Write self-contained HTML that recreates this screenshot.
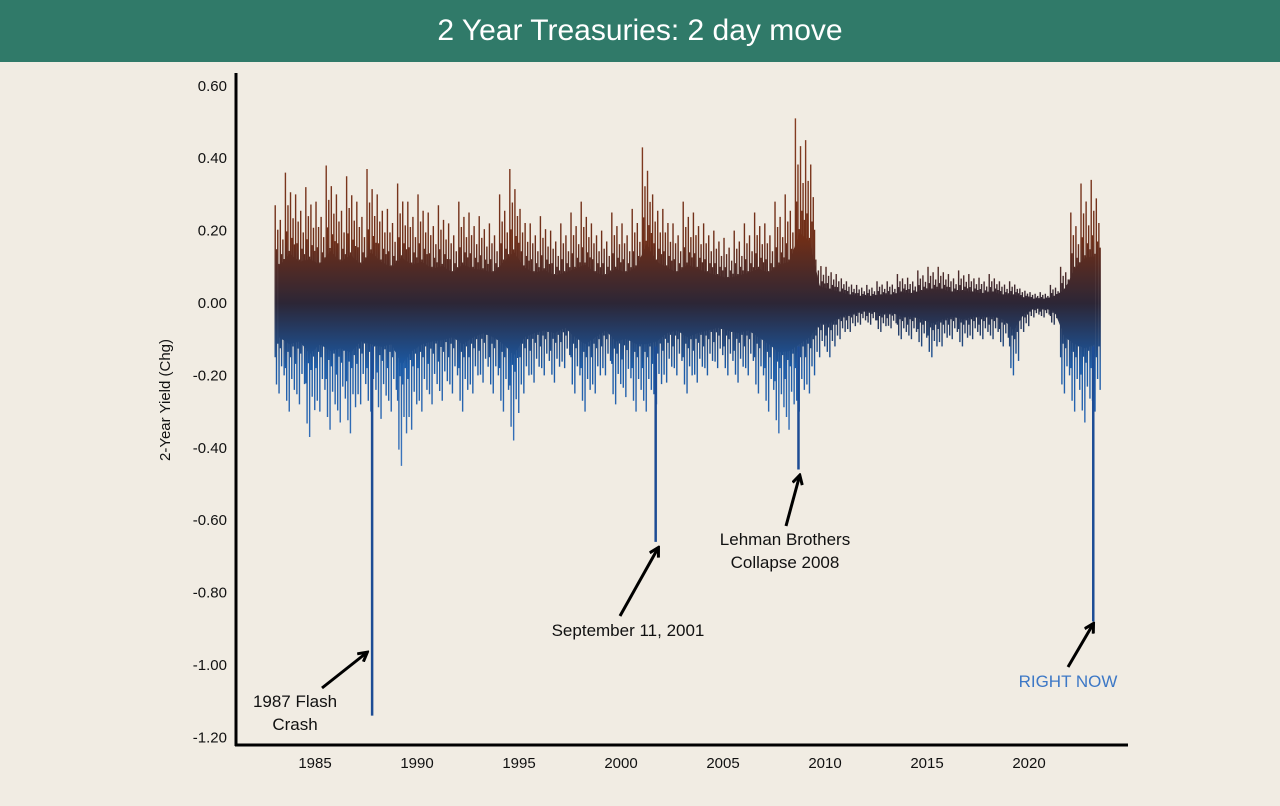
<!DOCTYPE html>
<html><head><meta charset="utf-8"><style>
html,body{margin:0;padding:0;width:1280px;height:806px;overflow:hidden;background:#f1ece3;font-family:"Liberation Sans",sans-serif}
#title{position:absolute;left:0;top:0;width:1280px;height:62px;background:#307a69;color:#fff;font-size:30px;line-height:62px;text-align:center;z-index:2}
svg{position:absolute;left:0;top:0}
</style></head><body>
<div id="title">2 Year Treasuries: 2 day move</div>
<svg id="c" width="1280" height="806">
<defs>
<linearGradient id="g" gradientUnits="userSpaceOnUse" x1="0" y1="100" x2="0" y2="470">
<stop offset="0" stop-color="#8a4024"/><stop offset="0.38" stop-color="#6e2e18"/>
<stop offset="0.55" stop-color="#2c2636"/><stop offset="0.72" stop-color="#1b5aa6"/>
<stop offset="1" stop-color="#3f78c0"/></linearGradient>
<marker id="ah" markerWidth="12" markerHeight="12" refX="7" refY="6" orient="auto" markerUnits="userSpaceOnUse"><path d="M1,1 L10,6 L1,11" fill="none" stroke="#000" stroke-width="3"/></marker>
</defs>
<g id="marks"></g>
<g id="axes"></g>
</svg>
<script>
const yTicks=[0.6,0.4,0.2,0,-0.2,-0.4,-0.6,-0.8,-1.0,-1.2];
const xTicks=[1985,1990,1995,2000,2005,2010,2015,2020];
const startYear=1983.25, stepYear=0.5;
const highs=[.27,.36,.30,.32,.28,.38,.30,.35,.28,.37,
.30,.26,.33,.28,.30,.25,.27,.22,.28,.25,
.24,.22,.30,.37,.26,.22,.24,.20,.22,.25,
.28,.22,.20,.25,.22,.26,.43,.30,.26,.22,
.28,.25,.22,.20,.18,.20,.22,.25,.22,.28,
.30,.51,.45,.12,.10,.08,.06,.05,.05,.06,
.06,.08,.07,.09,.10,.10,.08,.09,.08,.07,
.08,.06,.06,.04,.03,.03,.05,.10,.25,.33,.34];
const lows=[-.25,-.30,-.28,-.37,-.30,-.35,-.33,-.36,-.28,-.30,
-.32,-.30,-.45,-.35,-.30,-.28,-.27,-.25,-.30,-.25,
-.22,-.25,-.30,-.38,-.25,-.22,-.20,-.22,-.18,-.25,
-.30,-.25,-.20,-.28,-.26,-.30,-.30,-.28,-.22,-.20,
-.25,-.22,-.20,-.18,-.20,-.22,-.20,-.25,-.30,-.36,
-.35,-.30,-.25,-.15,-.15,-.10,-.08,-.06,-.06,-.08,
-.07,-.10,-.10,-.12,-.15,-.12,-.10,-.12,-.10,-.10,
-.10,-.12,-.20,-.08,-.04,-.04,-.06,-.25,-.30,-.33,-.30];
const spikeYears=[1987.8,2001.7,2008.7,2023.15];
const spikeValues=[-1.14,-0.66,-0.46,-0.88];
const X=y=>315+(y-1985)*20.4;
const Y=v=>303-v*362;
const NS="http://www.w3.org/2000/svg";
const marksG=document.getElementById('marks'), axesG=document.getElementById('axes');
function mk(tag,attrs,parent){const e=document.createElementNS(NS,tag);for(const k in attrs)e.setAttribute(k,attrs[k]);parent.appendChild(e);return e;}
const pu=[1,.55,.75,.4,.85,.5,.65,.45], pd=[.6,.9,.45,1,.5,.7,.4,.8];
const topPts=[], botPts=[];
highs.forEach((h,i)=>{const yr=startYear+i*stepYear;topPts.push(X(yr)+','+Y(h*0.38));botPts.unshift(X(yr)+','+Y(lows[i]*0.38));});
const core=mk('polygon',{points:topPts.concat(botPts).join(' '),fill:'url(#g)'},marksG);


highs.forEach((h,i)=>{
  const yr=startYear+i*stepYear;
  for(let k=0;k<8;k++){
    const x=X(yr-0.2+k*0.0625);
    const ln=mk('line',{x1:x,x2:x,y1:Y(h*pu[k]),y2:Y(lows[i]*pd[k]),stroke:'url(#g)','stroke-width':1.4},marksG);
    
    
  }
});
spikeYears.forEach((yr,i)=>{
  const ln=mk('line',{x1:X(yr),x2:X(yr),y1:Y(-0.12),y2:Y(spikeValues[i]),stroke:'#1d4c95','stroke-width':2.5},marksG);
  
  
});
const ya=mk('line',{x1:236,x2:236,y1:73,y2:746,stroke:'#000','stroke-width':3},axesG);


const xa=mk('line',{x1:235,x2:1128,y1:745,y2:745,stroke:'#000','stroke-width':3},axesG);


yTicks.forEach(v=>{const t=mk('text',{x:227,y:Y(v)+5,'text-anchor':'end','font-size':15,fill:'#111'},axesG);t.textContent=v.toFixed(2);

});
xTicks.forEach(v=>{const t=mk('text',{x:X(v),y:768,'text-anchor':'middle','font-size':15,fill:'#111'},axesG);t.textContent=v;

});
const yt=mk('text',{x:0,y:0,transform:'translate(170,400) rotate(-90)','text-anchor':'middle','font-size':15,fill:'#111'},axesG);
yt.textContent='2-Year Yield (Chg)';


const ann=[
 {x1:322,y1:688,x2:365,y2:654,lines:['1987 Flash','Crash'],tx:295,ty:707,col:'#111',name:'flash-crash-annotation'},
 {x1:620,y1:616,x2:657,y2:550,lines:['September 11, 2001'],tx:628,ty:636,col:'#111',name:'sept-11-annotation'},
 {x1:786,y1:526,x2:799,y2:478,lines:['Lehman Brothers','Collapse 2008'],tx:785,ty:545,col:'#111',name:'lehman-annotation'},
 {x1:1068,y1:667,x2:1092,y2:626,lines:['RIGHT NOW'],tx:1068,ty:687,col:'#3d78c6',name:'right-now-annotation'}];
ann.forEach(a=>{
  const g=mk('g',{},axesG);
  
  
  mk('line',{x1:a.x1,y1:a.y1,x2:a.x2,y2:a.y2,stroke:'#000','stroke-width':3,'marker-end':'url(#ah)'},g);
  a.lines.forEach((s,j)=>{const t=mk('text',{x:a.tx,y:a.ty+j*23,'text-anchor':'middle','font-size':17,fill:a.col},g);t.textContent=s;});
});
</script>
</body></html>
